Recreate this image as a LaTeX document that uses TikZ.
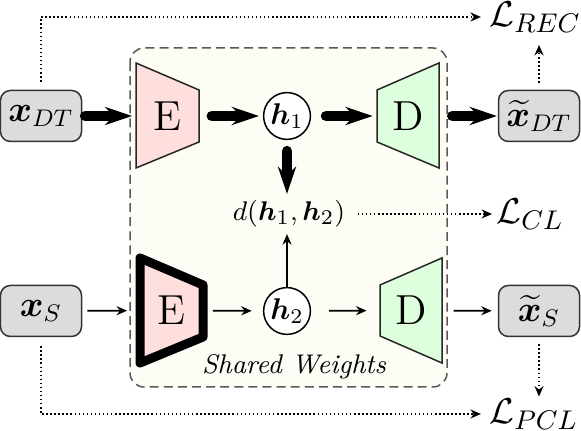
\documentclass[tikz,border=0pt]{standalone}
\usepackage{amsmath,bm}
\usetikzlibrary{arrows.meta}
\definecolor{boxgray}{RGB}{220,220,220}
\definecolor{encpink}{RGB}{255,222,222}
\definecolor{decgreen}{RGB}{222,255,222}
\definecolor{cream}{RGB}{253,252,245}
\begin{document}
\begin{tikzpicture}[x=0.3333pt,y=-0.3333pt,
  io/.style={draw=black!80, fill=boxgray, rounded corners=3.3pt, minimum width=27pt, minimum height=17pt, inner sep=0pt, line width=0.5pt, font=\fontsize{12}{14}\selectfont},
  lat/.style={draw, circle, fill=white, minimum size=15.6pt, inner sep=0pt, line width=0.5pt, font=\fontsize{10}{12}\selectfont},
  blk/.style={minimum width=21pt, minimum height=35pt, inner sep=0pt, outer sep=0pt, font=\fontsize{14}{17}\selectfont},
  trap/.style={draw=black!85, line width=0.5pt},
  thickarrow/.style={line width=3.6pt, line cap=round, -{Stealth[length=9pt,width=6pt,inset=3pt]}},
  thinarrow/.style={line width=0.6pt, -{Stealth[length=3.5pt,width=3pt]}},
  lossarrow/.style={line width=0.5pt, dash pattern=on 0.5pt off 0.85pt, -{Stealth[length=3.5pt,width=3pt]}},
  loss/.style={font=\fontsize{13}{15}\selectfont, inner sep=0pt, anchor=west}]
\useasboundingbox (0,0) rectangle (581,431);
% shared region
\draw[draw=black!65, line width=0.5pt, dash pattern=on 3pt off 1.7pt, fill=cream, rounded corners=4.7pt] (130,48) rectangle (447,387);
% trapezoids
\draw[trap, fill=encpink] (136,63) -- (199,90) -- (199,142) -- (136,168) -- cycle;
\draw[trap, fill=decgreen] (377,90) -- (439,63) -- (439,168) -- (377,142) -- cycle;
\draw[draw=black, fill=encpink, line width=3pt, line join=round] (140,258) -- (203,285) -- (203,337) -- (140,363) -- cycle;
\draw[trap, fill=decgreen] (380,285) -- (442,258) -- (442,363) -- (380,336) -- cycle;
% nodes
\node[blk] (E1) at (167.5,116) {E};
\node[blk] (D1) at (408,116) {D};
\node[blk] (E2) at (171.5,310.5) {E};
\node[blk] (D2) at (411,310.5) {D};
\node[io] (xdt) at (41,116) {$\bm{x}_{DT}$};
\node[io] (xdtr) at (539,116) {$\widetilde{\bm{x}}_{DT}$};
\node[io] (xs) at (41,311) {$\bm{x}_{S}$};
\node[io] (xsr) at (539,311) {$\widetilde{\bm{x}}_{S}$};
\node[lat] (h1) at (287,116) {$\bm{h}_1$};
\node[lat] (h2) at (287,311) {$\bm{h}_2$};
\node[inner sep=0pt, font=\fontsize{9.5}{11}\selectfont] (d) at (289,214) {$d(\bm{h}_1,\bm{h}_2)$};
\node[loss] (Lrec) at (489,17) {$\mathcal{L}_{REC}$};
\node[loss] (Lcl) at (496,214) {$\mathcal{L}_{CL}$};
\node[loss] (Lpcl) at (489,414) {$\mathcal{L}_{PCL}$};
\node[font=\fontsize{9}{11}\selectfont\itshape, inner sep=0pt] (sw) at (294,367) {Shared Weights};
% upper row
\draw[thickarrow, shorten <=1pt, shorten >=1.3pt] (xdt) -- (E1);
\draw[thickarrow, shorten <=4.3pt, shorten >=1.3pt] (E1) -- (h1);
\draw[thickarrow, shorten <=5pt, shorten >=1.3pt] (h1) -- (D1);
\draw[thickarrow, shorten <=4.3pt, shorten >=0.3pt] (D1) -- (xdtr);
\draw[thickarrow, shorten <=3.7pt, shorten >=2pt] (h1.south) -- (h1.south |- d.north);
% lower row
\draw[thinarrow, shorten <=1.7pt, shorten >=4.3pt] (xs) -- (E2);
\draw[thinarrow, shorten <=3.3pt, shorten >=3.7pt] (E2) -- (h2);
\draw[thinarrow, shorten <=6pt, shorten >=4.3pt] (h2) -- (D2);
\draw[thinarrow, shorten <=3.7pt, shorten >=2pt] (D2) -- (xsr);
\draw[thinarrow, shorten >=2pt] (h2.north) -- (h2.north |- d.south);
% losses
\draw[lossarrow, shorten <=2.7pt, shorten >=2.7pt] (xdt.north) |- (Lrec.west);
\draw[lossarrow, shorten <=2.3pt, shorten >=4pt] (xdtr.north) -- (xdtr.north |- Lrec.south);
\draw[lossarrow, shorten <=4pt, shorten >=1.3pt] (d.east) -- (Lcl.west);
\draw[lossarrow, shorten <=3pt, shorten >=2.7pt] (xs.south) |- (Lpcl.west);
\draw[lossarrow, shorten <=2.3pt, shorten >=0.5pt] (xsr.south) -- (xsr.south |- Lpcl.north);
\end{tikzpicture}
\end{document}
